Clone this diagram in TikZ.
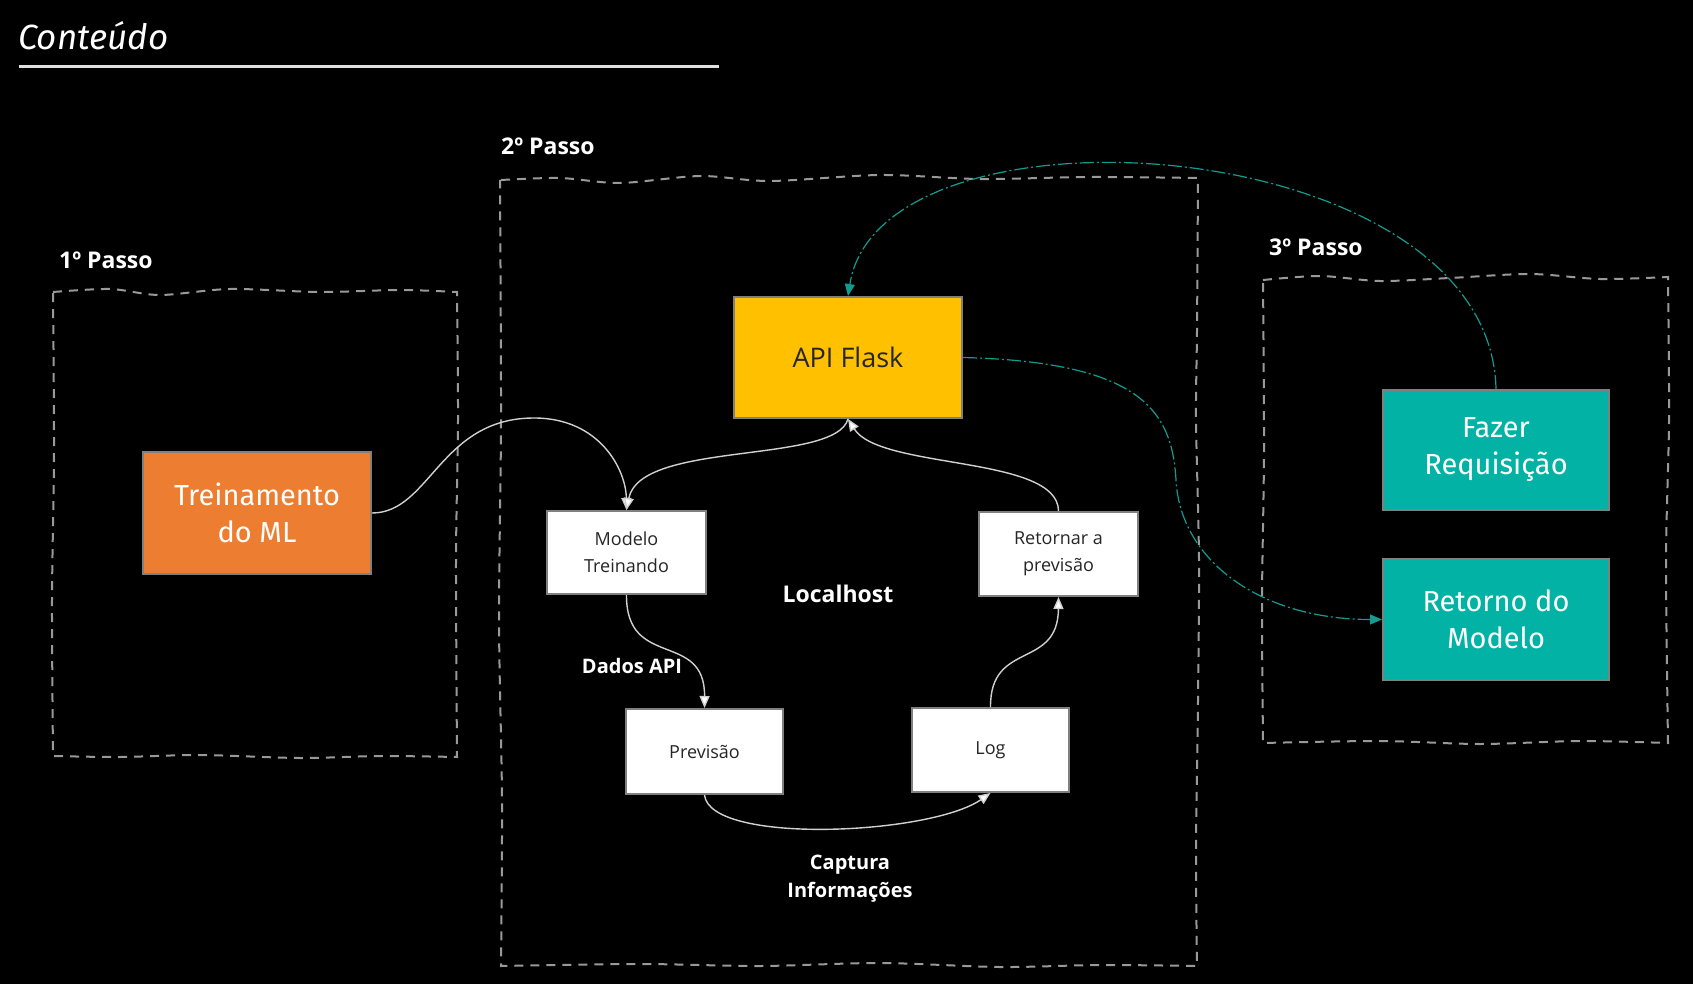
\documentclass[tikz,border=0pt]{standalone}
\usepackage{fontspec}
\setmainfont{Open Sans}
\newfontfamily\comicf{Fira Sans}
\usetikzlibrary{arrows.meta}
\definecolor{orangebox}{HTML}{ED7D31}
\definecolor{yellowbox}{HTML}{FFC000}
\definecolor{tealbox}{HTML}{02B2A4}
\definecolor{boxborder}{HTML}{808080}
\definecolor{dashgray}{HTML}{999999}
\definecolor{lineg}{HTML}{D0D0D0}
\definecolor{cyanl}{HTML}{129C90}
\definecolor{textdark}{HTML}{262626}
\tikzset{
  dashbox/.style={draw=dashgray, line width=2pt, dash pattern=on 9pt off 7pt},
  conn/.style={draw=lineg, line width=1.4pt, -{Triangle[length=12pt,width=10pt,fill=white]}},
  cyanconn/.style={draw=cyanl, line width=1.2pt, dash pattern=on 14pt off 3pt on 2pt off 3pt, -{Triangle[length=12pt,width=10pt,fill=cyanl]}},
  whitebox/.style={draw=boxborder, line width=2pt, fill=white, text=textdark, align=center, inner sep=0pt,
    font=\fontsize{18}{27}\selectfont},
  colorbox/.style={draw=boxborder, line width=2pt, text=white, align=center, inner sep=0pt,
    font=\comicf\fontsize{29}{37}\selectfont},
  steplabel/.style={text=white, anchor=west, inner sep=0pt, font=\bfseries\fontsize{23}{28}\selectfont},
  midlabel/.style={text=white, align=center, inner sep=0pt, font=\bfseries\fontsize{20}{28}\selectfont},
}
\begin{document}
\begin{tikzpicture}[x=1pt,y=-1pt]
\fill[black] (0,0) rectangle (1693,984);
\useasboundingbox (0,0) rectangle (1693,984);

% title
\node[anchor=base west, inner sep=0pt, text=white, font=\comicf\itshape\fontsize{35}{40}\selectfont] (title) at (18,50) {Conteúdo};
\coordinate (ulA) at (19,67);
\coordinate (ulB) at (719,67);
\draw[line width=3pt, draw=white!88!black] (ulA) -- (ulB);

% step frames
\draw[dashbox] plot[smooth] coordinates {(53,292) (110,289) (160,295) (230,289) (320,292) (400,290) (457,292)}
  -- plot[smooth] coordinates {(457,292) (458,420) (456,560) (457,757)}
  -- plot[smooth] coordinates {(457,757) (380,756) (300,758) (200,755) (120,757) (53,756)}
  -- plot[smooth] coordinates {(53,756) (52,600) (54,450) (53,292)};

\draw[dashbox] plot[smooth] coordinates {(501,180) (560,178) (620,183) (700,176) (770,181) (880,175) (980,179) (1090,177) (1198,178)}
  -- plot[smooth] coordinates {(1198,178) (1197,330) (1196,420) (1199,560) (1198,700) (1196,850) (1197,966)}
  -- plot[smooth] coordinates {(1197,966) (1100,965) (1000,967) (880,963) (760,966) (640,964) (501,966)}
  -- plot[smooth] coordinates {(501,966) (502,800) (499,620) (501,420) (500,180)};

\draw[dashbox] plot[smooth] coordinates {(1263,280) (1320,276) (1380,281) (1450,278) (1530,274) (1600,279) (1668,277)}
  -- plot[smooth] coordinates {(1668,277) (1669,420) (1666,560) (1668,743)}
  -- plot[smooth] coordinates {(1668,743) (1580,741) (1480,744) (1380,741) (1263,743)}
  -- plot[smooth] coordinates {(1263,743) (1262,600) (1264,450) (1263,280)};

% step labels
\node[steplabel] (p1) at (59,260) {1º Passo};
\node[steplabel] (p2) at (501,146) {2º Passo};
\node[steplabel] (p3) at (1269,247) {3º Passo};

% boxes
\node[colorbox, fill=orangebox, minimum width=228pt, minimum height=122pt] (train) at (257,513) {Treinamento\\do ML};
\node[draw=boxborder, line width=2pt, fill=yellowbox, text=textdark, inner sep=0pt, minimum width=228pt, minimum height=121pt,
  font=\fontsize{27}{32}\selectfont] (api) at (848,357.5) {API Flask};
\node[whitebox, minimum width=159pt, minimum height=83pt] (modelo) at (626.5,552.5) {Modelo\\Treinando};
\node[whitebox, minimum width=157pt, minimum height=85pt] (prev) at (704.5,751.5) {Previsão};
\node[whitebox, minimum width=157pt, minimum height=84pt] (log) at (990.5,750) {\raisebox{-2pt}{Log}};
\node[whitebox, minimum width=159pt, minimum height=84pt] (ret) at (1058.5,554) {Retornar a\\previsão};
\node[colorbox, fill=tealbox, minimum width=226pt, minimum height=120pt] (fazer) at (1496,450) {Fazer\\Requisição};
\node[colorbox, fill=tealbox, minimum width=226pt, minimum height=121pt] (retmod) at (1496,619.5) {Retorno do\\Modelo};

% free labels
\node[midlabel, font=\bfseries\fontsize{23}{28}\selectfont] (localhost) at (838,594) {Localhost};
\node[midlabel] (dados) at (632,666) {Dados API};
\node[midlabel] (captura) at (850,879) {Captura\\Informações};

% white connectors
\draw[conn] (train.east) .. controls (430,513) and (440,418) .. (534,418) .. controls (600,418) and (626,470) .. (modelo.north);
\draw[conn] (api.south) .. controls (835,465) and (640,440) .. (modelo.north);
\draw[conn] (ret.north) .. controls (1058,455) and (880,470) .. (api.south);
\draw[conn] (modelo.south) .. controls (626,670) and (705,630) .. (prev.north);
\draw[conn] (prev.south) .. controls (710,845) and (930,835) .. (log.south);
\draw[conn] (log.north) .. controls (990,640) and (1058,670) .. (ret.south);

% cyan connectors
\draw[cyanconn] (fazer.north) .. controls (1490,130) and (880,90) .. (api.north);
\draw[cyanconn] (api.east) .. controls (1140,362) and (1172,410) .. (1176,480) .. controls (1180,560) and (1260,619.5) .. (retmod.west);
\end{tikzpicture}
\end{document}
